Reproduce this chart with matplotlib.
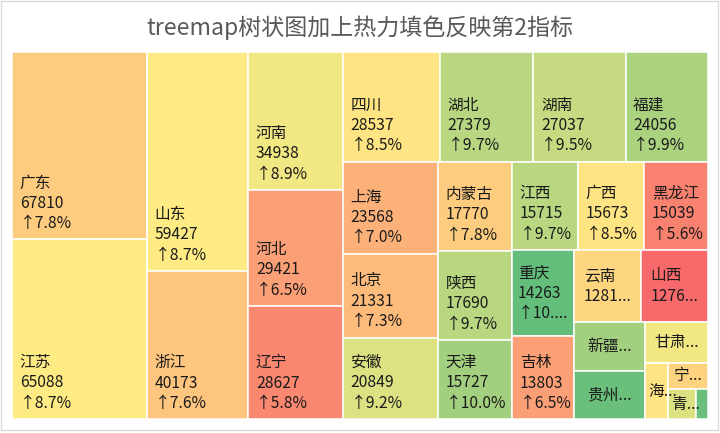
import numpy as np
import matplotlib
matplotlib.use('Agg')
import matplotlib.pyplot as plt
from matplotlib.patches import Rectangle

# ---------------- data ----------------
provinces = ['广东', '江苏', '山东', '浙江', '河南', '河北', '辽宁', '四川', '湖北', '湖南',
             '福建', '上海', '北京', '安徽', '内蒙古', '陕西', '天津', '江西', '广西', '黑龙江',
             '重庆', '吉林', '云南', '山西', '新疆', '贵州', '甘肃', '海南', '宁夏', '青海', '西藏']
gdp = [67810, 65088, 59427, 40173, 34938, 29421, 28627, 28537, 27379, 27037,
       24056, 23568, 21331, 20849, 17770, 17690, 15727, 15715, 15673, 15039,
       14263, 13803, 12815, 12761, 9273, 9251, 6835, 3501, 2752, 2303, 921]
growth = [7.8, 8.7, 8.7, 7.6, 8.9, 6.5, 5.8, 8.5, 9.7, 9.5,
          9.9, 7.0, 7.3, 9.2, 7.8, 9.7, 10.0, 9.7, 8.5, 5.6,
          10.9, 6.5, 8.1, 4.9, 10.0, 10.8, 8.9, 8.5, 8.0, 9.2, 10.8]
title = 'treemap树状图加上热力填色反映第2指标'

# ---------------- style ----------------
FAM = ['Noto Sans CJK SC', 'DejaVu Sans']
FS = 11.3
LINE = 20.3
PADX = 7.5
BOTTOM_OFF = 16.0
FIT_OFF = 17.0
TAU = 1.27  # preferred height/width of tiles

# colour scale (Excel style red-yellow-green 3-colour scale)
c_lo = np.array([0xF8, 0x69, 0x6B]) / 255
c_mid = np.array([0xFF, 0xEB, 0x84]) / 255
c_hi = np.array([0x63, 0xBE, 0x7B]) / 255
g_lo, g_hi = min(growth), max(growth)
g_mid = float(np.percentile(growth, 50))


def scale_color(g):
    if g <= g_mid:
        t = (g - g_lo) / (g_mid - g_lo)
        return tuple(c_lo + t * (c_mid - c_lo))
    t = (g - g_mid) / (g_hi - g_mid)
    return tuple(c_mid + t * (c_hi - c_mid))


# ---------------- figure ----------------
fig = plt.figure(figsize=(7.2, 4.33), dpi=100)
fig.patch.set_facecolor('white')
L, R, T, B = 12.3, 707.5, 52.0, 419.3
W, H = R - L, B - T
ax = fig.add_axes([L / 720, 1 - B / 433, W / 720, H / 433])
ax.set_xlim(0, W)
ax.set_ylim(H, 0)
ax.axis('off')

fig.text(0.5, 1 - 28 / 433, title, ha='center', va='center', fontsize=16.6,
         color='#595959', family=FAM)
fig.patches.append(Rectangle((1 / 720, 1 - 430 / 433), 717 / 720, 429.5 / 433,
                             transform=fig.transFigure, fill=False,
                             edgecolor='#d9d9d9', lw=1.0))

# ---------------- squarified layout ----------------
vals = np.array(gdp, dtype=float)
areas = vals / vals.sum() * W * H


def worst(row, side, horizontal):
    s = sum(row)
    t = s / side
    res = 0
    for a in row:
        ln = a / t
        asp = (t / ln) if horizontal else (ln / t)
        res = max(res, asp / TAU, TAU / asp)
    return res


rects = []
x0, y0, x1, y1 = 0.0, 0.0, W, H
i, n = 0, len(areas)
while i < n:
    w, h = x1 - x0, y1 - y0
    horizontal = w <= h
    side = w if horizontal else h
    row = [areas[i]]
    cur = worst(row, side, horizontal)
    j = i + 1
    while j < n:
        new = worst(row + [areas[j]], side, horizontal)
        if new > cur:
            break
        row.append(areas[j])
        cur = new
        j += 1
    t = sum(row) / side
    pos = x0 if horizontal else y0
    for a in row:
        ln = a / t
        if horizontal:
            rects.append((pos, y0, ln, t))
        else:
            rects.append((x0, pos, t, ln))
        pos += ln
    if horizontal:
        y0 += t
    else:
        x0 += t
    i = j

# ---------------- draw ----------------
fig.canvas.draw()
renderer = fig.canvas.get_renderer()


def text_w(s):
    if not s:
        return 0
    tt = ax.text(0, 0, s, fontsize=FS, family=FAM)
    wd = tt.get_window_extent(renderer).width
    tt.remove()
    return wd


ELL = '...'


def fit(s, avail, rw, force_ell=False):
    if not force_ell and text_w(s) <= avail:
        return s, False
    for k in range(len(s) - (0 if force_ell else 1), 0, -1):
        cand = s[:k] + ELL
        if text_w(cand) <= avail:
            return cand, True
    if rw >= 20:
        return s[:1] + ELL, True
    return '', True


for k, (rx, ry, rw, rh) in enumerate(rects):
    p = Rectangle((rx, ry), rw, rh, facecolor=scale_color(growth[k]),
                  edgecolor='white', lw=1.1)
    ax.add_patch(p)
    lines = [provinces[k], f'{gdp[k]}', f'↑{growth[k]:.1f}%']
    n_fit = max(1, min(3, int((rh - FIT_OFF) // LINE)))
    shown = []
    trunc = n_fit < 3
    for li in range(n_fit):
        forced = n_fit < 3 and li == n_fit - 1
        avail = rw - 2 * PADX if forced else rw - PADX - 2
        s, tr = fit(lines[li], avail, rw, force_ell=forced)
        trunc = trunc or tr
        shown.append(s)
    nn = len(shown)
    if not trunc:
        ys = [ry + rh - BOTTOM_OFF - (nn - 1 - q) * LINE for q in range(nn)]
        xt = rx + PADX
    else:
        cy = ry + rh / 2
        ys = [cy + (q - (nn - 1) / 2) * LINE for q in range(nn)]
        bw = max(text_w(s) for s in shown)
        xt = max(rx + 3, rx + (rw - bw) / 2)
    for s, yy in zip(shown, ys):
        if not s:
            continue
        tt = ax.text(xt, yy, s, ha='left', va='center', fontsize=FS,
                     family=FAM, color='#1a1a1a')
        tt.set_clip_path(p)

fig.savefig('out.png', dpi=100, facecolor='white')
